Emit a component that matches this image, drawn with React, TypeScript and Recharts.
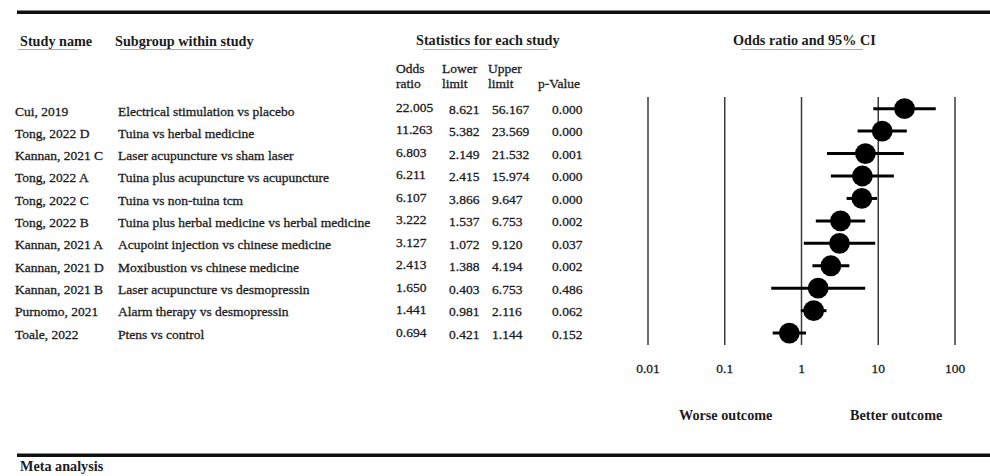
import React from 'react';
import { ScatterChart, Scatter, XAxis, YAxis, ErrorBar, ReferenceLine } from 'recharts';

const studyNames = [
  'Cui, 2019',
  'Tong, 2022 D',
  'Kannan, 2021 C',
  'Tong, 2022 A',
  'Tong, 2022 C',
  'Tong, 2022 B',
  'Kannan, 2021 A',
  'Kannan, 2021 D',
  'Kannan, 2021 B',
  'Purnomo, 2021',
  'Toale, 2022',
];

const subgroups = [
  'Electrical stimulation vs placebo',
  'Tuina vs herbal medicine',
  'Laser acupuncture vs sham laser',
  'Tuina plus acupuncture vs acupuncture',
  'Tuina vs non-tuina tcm',
  'Tuina plus herbal medicine vs herbal medicine',
  'Acupoint injection vs chinese medicine',
  'Moxibustion vs chinese medicine',
  'Laser acupuncture vs desmopressin',
  'Alarm therapy vs desmopressin',
  'Ptens vs control',
];

const oddsRatios = [22.005, 11.263, 6.803, 6.211, 6.107, 3.222, 3.127, 2.413, 1.65, 1.441, 0.694];
const lowerLimits = [8.621, 5.382, 2.149, 2.415, 3.866, 1.537, 1.072, 1.388, 0.403, 0.981, 0.421];
const upperLimits = [56.167, 23.569, 21.532, 15.974, 9.647, 6.753, 9.12, 4.194, 6.753, 2.116, 1.144];
const pValues = ['0.000', '0.000', '0.001', '0.000', '0.000', '0.002', '0.037', '0.002', '0.486', '0.062', '0.152'];
const xTicks = [0.01, 0.1, 1, 10, 100];

const rows = oddsRatios.map((or, i) => ({
  row: i,
  or,
  err: [or - lowerLimits[i], upperLimits[i] - or],
}));

const FONT = '"Liberation Serif", "Times New Roman", serif';
const INK = '#1c1c1c';
const UL = '#9fb2b6';

const Dot = (props: any) => {
  const { cx, cy } = props;
  if (cx == null || cy == null) return null;
  return <circle cx={cx} cy={cy} r={10.4} fill="#000" />;
};

export default function App() {
  const rowBase = (i: number) => 115.5 + i * 22.3;
  const numBase = (i: number) => 112.5 + i * 22.5;
  return (
    <div style={{ position: 'absolute', left: 0, top: 0, width: 990, height: 476, background: '#fff' }}>
      <ScatterChart width={990} height={476} margin={{ top: 97, right: 35, bottom: 101, left: 648 }}>
        <XAxis
          dataKey="or"
          type="number"
          scale="log"
          domain={[0.01, 100]}
          ticks={xTicks}
          allowDataOverflow
          axisLine={false}
          tickLine={false}
          tickSize={0}
          tickMargin={18}
          height={30}
          tick={{ fontFamily: FONT, fontSize: 13.5, fill: INK, stroke: INK, strokeWidth: 0.3 }}
          tickFormatter={(v: number) => String(v)}
        />
        <YAxis dataKey="row" type="number" domain={[-0.52, 10.53]} reversed hide />
        {xTicks.map((t) => (
          <ReferenceLine key={t} x={t} stroke="#3a3a3a" strokeWidth={1.5} />
        ))}
        <Scatter data={rows} shape={Dot} isAnimationActive={false}>
          <ErrorBar dataKey="err" direction="x" width={0} strokeWidth={3} stroke="#000" isAnimationActive={false} />
        </Scatter>
      </ScatterChart>
      <svg
        width={990}
        height={476}
        style={{ position: 'absolute', left: 0, top: 0, pointerEvents: 'none' }}
        fontFamily={FONT}
      >
        <rect x={17} y={10.5} width={973} height={3.5} fill="#111" />
        <rect x={17} y={453.5} width={973} height={3.5} fill="#111" />

        <g fontWeight="bold" fontSize={14.2} fill={INK}>
          <text x={20} y={46}>Study name</text>
          <text x={115} y={46}>Subgroup within study</text>
          <text x={416} y={45}>Statistics for each study</text>
          <text x={733} y={45}>Odds ratio and 95% CI</text>
          <text x={679} y={420}>Worse outcome</text>
          <text x={850} y={420}>Better outcome</text>
          <text x={20} y={471}>Meta analysis</text>
        </g>
        <g stroke={UL} strokeWidth={1.2}>
          <line x1={18} x2={78} y1={49.5} y2={49.5} />
          <line x1={120} x2={236} y1={49.5} y2={49.5} />
          <line x1={423} x2={548} y1={49.5} y2={49.5} />
          <line x1={741} x2={863} y1={49.5} y2={49.5} />
        </g>

        <g fontSize={13.5} fill={INK} stroke={INK} strokeWidth={0.3}>
          <text x={396} y={73}>Odds</text>
          <text x={396} y={88}>ratio</text>
          <text x={442} y={73}>Lower</text>
          <text x={442} y={88}>limit</text>
          <text x={488} y={73}>Upper</text>
          <text x={488} y={88}>limit</text>
          <text x={538} y={88}>p-Value</text>
        </g>

        <g fontSize={13.5} fill={INK} stroke={INK} strokeWidth={0.3}>
          {studyNames.map((s, i) => (
            <text key={'s' + i} x={15} y={rowBase(i)}>{s}</text>
          ))}
          {subgroups.map((s, i) => (
            <text key={'g' + i} x={118} y={rowBase(i)}>{s}</text>
          ))}
          {oddsRatios.map((v, i) => (
            <text key={'o' + i} x={396} y={numBase(i) - 1}>{v.toFixed(3)}</text>
          ))}
          {lowerLimits.map((v, i) => (
            <text key={'l' + i} x={449} y={numBase(i) + 1}>{v.toFixed(3)}</text>
          ))}
          {upperLimits.map((v, i) => (
            <text key={'u' + i} x={492} y={numBase(i) + 1}>{v.toFixed(3)}</text>
          ))}
          {pValues.map((v, i) => (
            <text key={'p' + i} x={552} y={numBase(i) + 1}>{v}</text>
          ))}
        </g>
      </svg>
    </div>
  );
}
